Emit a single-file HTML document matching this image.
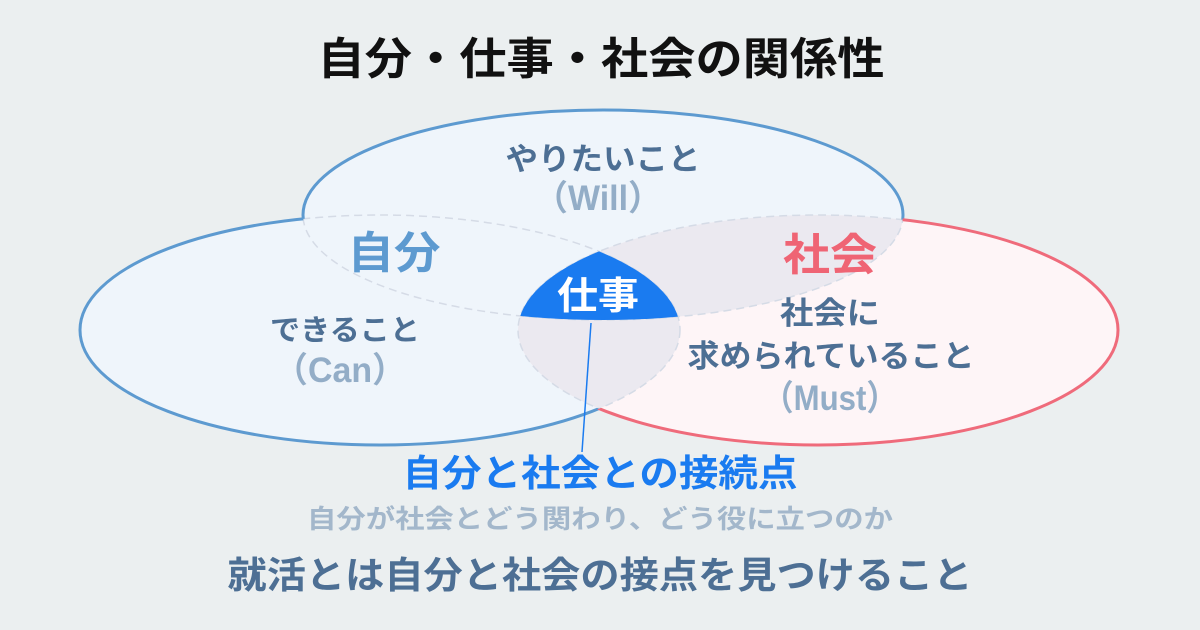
<!DOCTYPE html>
<html><head><meta charset="utf-8"><style>
html,body{margin:0;padding:0;background:#ebeff0;}
svg{display:block;}
text{font-family:"Liberation Sans","Noto Sans CJK JP",sans-serif;font-weight:bold;text-anchor:middle;}
</style></head><body>
<svg width="1200" height="630" viewBox="0 0 1200 630" xmlns="http://www.w3.org/2000/svg">
<defs>
<clipPath id="cL"><ellipse cx="380" cy="330" rx="300" ry="115"/></clipPath>
<clipPath id="cR"><ellipse cx="818" cy="330" rx="300" ry="115"/></clipPath>
<clipPath id="cT"><ellipse cx="603" cy="215" rx="300" ry="105"/></clipPath>
<mask id="mT" maskUnits="userSpaceOnUse" x="0" y="0" width="1200" height="630"><rect width="1200" height="630" fill="#fff"/><ellipse cx="380" cy="330" rx="300" ry="115" fill="#000"/><ellipse cx="818" cy="330" rx="300" ry="115" fill="#000"/></mask>
<mask id="mL" maskUnits="userSpaceOnUse" x="0" y="0" width="1200" height="630"><rect width="1200" height="630" fill="#fff"/><ellipse cx="603" cy="215" rx="300" ry="105" fill="#000"/><ellipse cx="818" cy="330" rx="300" ry="115" fill="#000"/></mask>
<mask id="mR" maskUnits="userSpaceOnUse" x="0" y="0" width="1200" height="630"><rect width="1200" height="630" fill="#fff"/><ellipse cx="603" cy="215" rx="300" ry="105" fill="#000"/><ellipse cx="380" cy="330" rx="300" ry="115" fill="#000"/></mask>
</defs>
<rect width="1200" height="630" fill="#ebeff0"/>
<ellipse cx="603" cy="215" rx="300" ry="105" fill="#eff5fb"/>
<ellipse cx="380" cy="330" rx="300" ry="115" fill="#eff5fb"/>
<ellipse cx="818" cy="330" rx="300" ry="115" fill="#fef5f7"/>
<g clip-path="url(#cR)"><ellipse cx="380" cy="330" rx="300" ry="115" fill="#ebe9f0"/><ellipse cx="603" cy="215" rx="300" ry="105" fill="#ebe9f0"/></g>
<g fill="none" stroke="#d5dbe6" stroke-width="1.5" stroke-dasharray="8 5">
<ellipse cx="603" cy="215" rx="300" ry="105"/>
<ellipse cx="380" cy="330" rx="300" ry="115"/>
<ellipse cx="818" cy="330" rx="300" ry="115"/>
</g>
<ellipse cx="603" cy="215" rx="300" ry="105" fill="none" stroke="#5d9ad0" stroke-width="3" mask="url(#mT)"/>
<ellipse cx="380" cy="330" rx="300" ry="115" fill="none" stroke="#5d9ad0" stroke-width="3" mask="url(#mL)"/>
<ellipse cx="818" cy="330" rx="300" ry="115" fill="none" stroke="#ef6b7b" stroke-width="3" mask="url(#mR)"/>
<g clip-path="url(#cL)"><g clip-path="url(#cR)"><ellipse cx="603" cy="215" rx="300" ry="105" fill="#1a7bf0"/></g></g>
<line x1="591" y1="323" x2="582" y2="452" stroke="#1a7bf0" stroke-width="1.5"/>
<text x="601" y="74" font-size="44" fill="#111" textLength="567" lengthAdjust="spacingAndGlyphs">自分・仕事・社会の関係性</text>
<text x="603" y="170" font-size="31" fill="#4d6f94" textLength="195" lengthAdjust="spacingAndGlyphs">やりたいこと</text>
<text x="598" y="210" font-size="35" fill="#93adc7" textLength="128" lengthAdjust="spacingAndGlyphs">（Will）</text>
<text x="394" y="268" font-size="44" fill="#5d9ad0" textLength="93" lengthAdjust="spacingAndGlyphs">自分</text>
<text x="830" y="270" font-size="44" fill="#ef6474" textLength="94" lengthAdjust="spacingAndGlyphs">社会</text>
<text x="598" y="309" font-size="38" fill="#ffffff" textLength="82" lengthAdjust="spacingAndGlyphs">仕事</text>
<text x="345" y="340" font-size="29" fill="#4d6f94" textLength="150" lengthAdjust="spacingAndGlyphs">できること</text>
<text x="340" y="382" font-size="35" fill="#93adc7" textLength="132" lengthAdjust="spacingAndGlyphs">（Can）</text>
<text x="830" y="324" font-size="31" fill="#4d6f94" textLength="100" lengthAdjust="spacingAndGlyphs">社会に</text>
<text x="831" y="367" font-size="31" fill="#4d6f94" textLength="287" lengthAdjust="spacingAndGlyphs">求められていること</text>
<text x="830" y="410" font-size="35" fill="#93adc7" textLength="135" lengthAdjust="spacingAndGlyphs">（Must）</text>
<text x="600" y="486" font-size="37" fill="#1a7bf0" textLength="395" lengthAdjust="spacingAndGlyphs">自分と社会との接続点</text>
<text x="600" y="528" font-size="26" fill="#a3b7cb" textLength="586" lengthAdjust="spacingAndGlyphs">自分が社会とどう関わり、どう役に立つのか</text>
<text x="600" y="588" font-size="37" fill="#4d6f94" textLength="745" lengthAdjust="spacingAndGlyphs">就活とは自分と社会の接点を見つけること</text>
</svg>
</body></html>
